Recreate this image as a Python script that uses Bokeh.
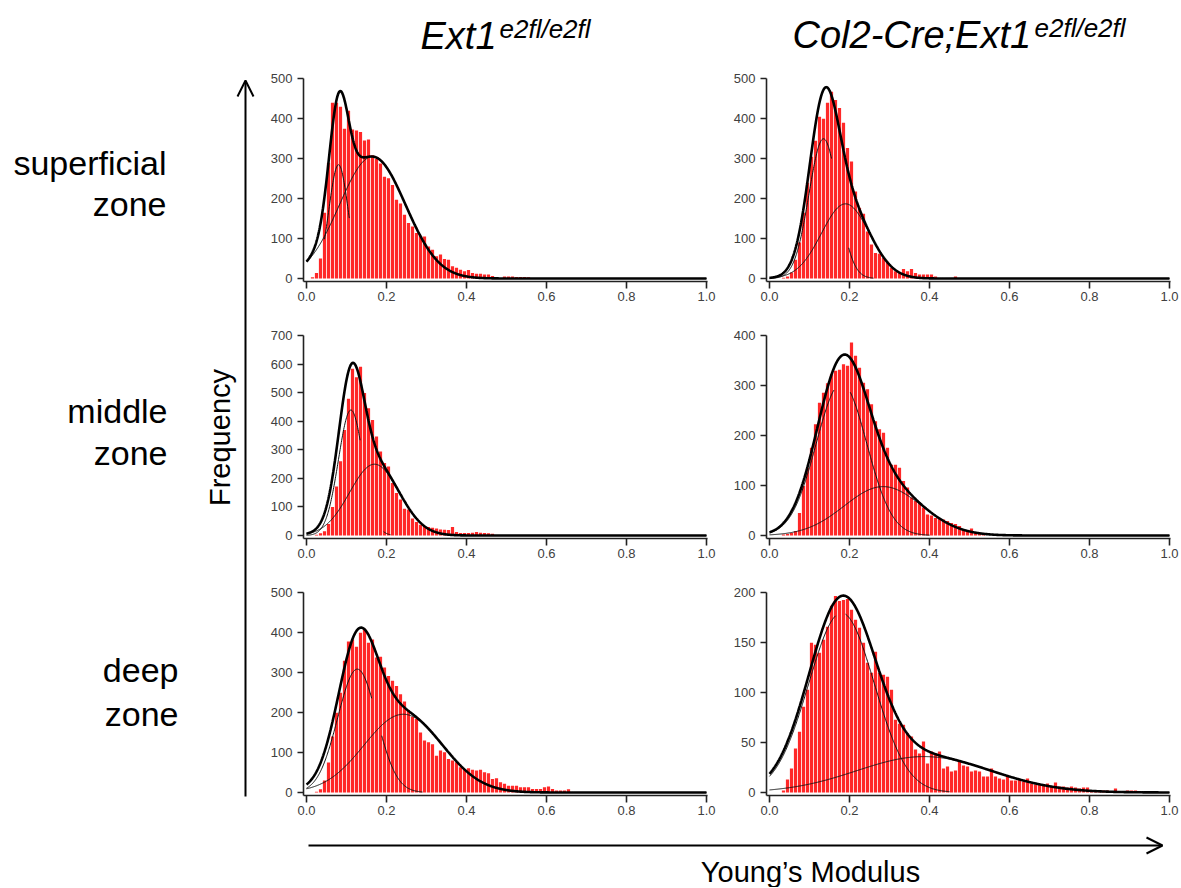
import numpy as np
from bokeh.plotting import figure
from bokeh.layouts import row, column
from bokeh.models import Range1d, FixedTicker, NumeralTickFormatter, Arrow, OpenHead
from bokeh.core.properties import value
from bokeh.embed import file_html
from bokeh.resources import INLINE

# ---------------- data ----------------
bin_width = 0.01  # histogram bins start at 0.00, 0.01, 0.02, ...

sup_ctrl_counts = [0, 3, 14, 50, 165, 290, 440, 440, 430, 375, 420, 373, 371, 367, 346, 348, 309, 300,
                   288, 255, 251, 234, 197, 188, 160, 139, 130, 114, 107, 105, 80, 72, 56, 60, 49, 47,
                   31, 27, 22, 18, 21, 14, 12, 12, 10, 10, 6, 3, 0, 5, 5, 5, 4, 4, 4, 3]
sup_cko_counts = [0, 0, 0, 2, 5, 15, 47, 90, 165, 240, 305, 345, 405, 400, 440, 468, 447, 427, 390,
                  327, 293, 218, 177, 162, 118, 85, 64, 62, 52, 42, 27, 18, 14, 24, 18, 24, 14, 10, 10,
                  10, 10, 5, 0, 0, 0, 0, 5]
mid_ctrl_counts = [0, 0, 3, 8, 15, 40, 100, 172, 260, 370, 480, 585, 555, 592, 500, 446, 405, 347, 295,
                   254, 242, 184, 149, 126, 94, 91, 60, 47, 38, 33, 30, 27, 25, 21, 20, 19, 30, 12, 9,
                   9, 9, 10, 12, 10, 9, 8, 6]
mid_cko_counts = [0, 0, 0, 2, 3, 5, 9, 45, 99, 136, 176, 223, 266, 286, 305, 323, 330, 332, 343, 340,
                  387, 360, 336, 306, 293, 263, 229, 213, 206, 176, 142, 142, 136, 109, 96, 76, 69, 66,
                  56, 42, 40, 35, 35, 32, 29, 25, 23, 19, 12, 10, 14, 7, 5, 5]
deep_ctrl_counts = [0, 0, 2, 8, 30, 75, 140, 200, 250, 330, 378, 383, 365, 400, 410, 375, 383, 338, 340,
                    313, 292, 280, 267, 246, 228, 205, 190, 184, 150, 130, 126, 121, 92, 105, 101, 84,
                    80, 76, 63, 59, 61, 57, 55, 57, 51, 48, 34, 36, 26, 22, 17, 17, 17, 13, 13, 13, 9,
                    9, 9, 13, 15, 9, 5, 5, 5, 8]
deep_cko_counts = [0, 0, 0, 2, 13, 24, 44, 61, 86, 103, 150, 148, 140, 153, 166, 187, 197, 192, 193,
                   194, 183, 173, 165, 150, 130, 120, 141, 120, 118, 116, 103, 73, 69, 68, 59, 56, 43,
                   39, 51, 29, 41, 39, 41, 24, 26, 21, 22, 31, 27, 26, 21, 22, 21, 16, 16, 24, 16, 14,
                   13, 16, 12, 12, 13, 11, 14, 9, 8, 8, 7, 9, 6, 10, 6, 6, 5, 6, 5, 4, 5, 5, 2, 2, 2,
                   2, 2, 0, 4, 0, 0, 2, 2, 2]

# Gaussian fit components: (amplitude, centre, width)
sup_ctrl_fit1 = (285, 0.080, 0.024)
sup_ctrl_fit2 = (305, 0.165, 0.0825)
sup_ctrl_segs = [(0.045, 0.107)]
sup_cko_fit1 = (350, 0.135, 0.0362)
sup_cko_fit2 = (187, 0.190, 0.060)
sup_cko_segs = [(0.0, 0.155), (0.198, 0.26)]
mid_ctrl_fit1 = (440, 0.111, 0.031)
mid_ctrl_fit2 = (250, 0.170, 0.062)
mid_ctrl_segs = [(0.0, 0.134), (0.193, 0.21)]
mid_cko_fit1 = (305, 0.180, 0.063)
mid_cko_fit2 = (98, 0.284, 0.097)
mid_cko_segs = [(0.0, 0.161), (0.202, 0.40)]
deep_ctrl_fit1 = (309, 0.127, 0.049)
deep_ctrl_fit2 = (196, 0.242, 0.098)
deep_ctrl_segs = [(0.0, 0.163), (0.188, 0.29)]
deep_cko_fit1 = (180, 0.180, 0.082)
deep_cko_fit2 = (36, 0.386, 0.168)
deep_cko_segs = [(0.0, 0.165), (0.19, 0.45)]

x_ticks = [0.0, 0.2, 0.4, 0.6, 0.8, 1.0]
y_ticks_500 = [0, 100, 200, 300, 400, 500]
y_ticks_700 = [0, 100, 200, 300, 400, 500, 600, 700]
y_ticks_400 = [0, 100, 200, 300, 400]
y_ticks_200 = [0, 50, 100, 150, 200]

col_titles_main = ["Ext1", "Col2-Cre;Ext1"]
col_titles_sup = ["e2fl/e2fl", "e2fl/e2fl"]
row_labels = [["superficial", "zone"], ["middle", "zone"], ["deep", "zone"]]
y_title = "Frequency"
x_title = "Young\u2019s Modulus"

FONT = "Liberation Sans"


def gauss(x, fit):
    a, m, s = fit
    return a * np.exp(-(x - m) ** 2 / (2 * s * s))


def panel(counts, fit1, fit2, segs, ymax, yticks, bl, br, bt, bb):
    fw, fh = 404, 203
    p = figure(width=bl + fw + br, height=bt + fh + bb,
               x_range=Range1d(-0.0075, 1.0025),
               y_range=Range1d(-0.015 * ymax, ymax * 1.002),
               output_backend="svg", toolbar_location=None,
               min_border_left=bl, min_border_right=br,
               min_border_top=bt, min_border_bottom=bb)
    centers = [bin_width * (i + 0.5) for i in range(len(counts))]
    p.vbar(x=centers, top=counts, width=bin_width * 0.8, bottom=0,
           fill_color="#ff2828", line_color=None)
    xg = np.linspace(0, 1, 1001)
    g1 = gauss(xg, fit1)
    g2 = gauss(xg, fit2)
    g1s = np.full_like(xg, np.nan)
    for a, b in segs:
        m = (xg >= a) & (xg <= b)
        g1s[m] = g1[m]
    p.line(xg, g2, line_color="#111111", line_width=1)
    p.line(xg, g1s, line_color="#111111", line_width=1)
    p.line(xg, g1 + g2, line_color="black", line_width=2.6)

    p.xaxis.ticker = FixedTicker(ticks=x_ticks)
    p.xaxis.formatter = NumeralTickFormatter(format="0.0")
    p.yaxis.ticker = FixedTicker(ticks=yticks)
    p.axis.major_tick_in = 0
    p.xaxis.major_tick_out = 7
    p.yaxis.major_tick_out = 6
    p.axis.minor_tick_line_color = None
    p.axis.axis_line_width = 1.6
    p.axis.axis_line_color = "#222222"
    p.axis.major_tick_line_width = 1.6
    p.axis.major_tick_line_color = "#222222"
    p.axis.major_label_text_font_size = "13px"
    p.axis.major_label_text_color = "#404040"
    p.axis.major_label_text_font = FONT
    p.xaxis.major_label_standoff = 3
    p.yaxis.major_label_standoff = 5
    p.xgrid.visible = False
    p.ygrid.visible = False
    p.outline_line_color = None
    return p


def blank(w, h, x0, x1, y0, y1):
    p = figure(width=w, height=h, x_range=Range1d(x0, x1), y_range=Range1d(y0, y1),
               output_backend="svg", toolbar_location=None,
               x_axis_location=None, y_axis_location=None,
               min_border_left=0, min_border_right=0, min_border_top=0, min_border_bottom=0)
    p.xgrid.visible = False
    p.ygrid.visible = False
    p.outline_line_color = None
    return p


# column 1 / column 2 borders
L1, R1 = 45, 14
L2, R2 = 45, 11
TOP = 10
BOT12 = 44
BOT3 = 26

p11 = panel(sup_ctrl_counts, sup_ctrl_fit1, sup_ctrl_fit2, sup_ctrl_segs, 500, y_ticks_500, L1, R1, TOP, BOT12)
p21 = panel(mid_ctrl_counts, mid_ctrl_fit1, mid_ctrl_fit2, mid_ctrl_segs, 700, y_ticks_700, L1, R1, TOP, BOT12)
p31 = panel(deep_ctrl_counts, deep_ctrl_fit1, deep_ctrl_fit2, deep_ctrl_segs, 500, y_ticks_500, L1, R1, TOP, BOT3)
p12 = panel(sup_cko_counts, sup_cko_fit1, sup_cko_fit2, sup_cko_segs, 500, y_ticks_500, L2, R2, TOP, BOT12)
p22 = panel(mid_cko_counts, mid_cko_fit1, mid_cko_fit2, mid_cko_segs, 400, y_ticks_400, L2, R2, TOP, BOT12)
p32 = panel(deep_cko_counts, deep_cko_fit1, deep_cko_fit2, deep_cko_segs, 200, y_ticks_200, L2, R2, TOP, BOT3)

# page coordinates for the text canvases (y negative downwards)
TOTAL_W = 1181
LAB_W = 258
title_h = 68
rows_h = (TOP + 203 + BOT12) * 2 + (TOP + 203 + BOT3)
y_bot0 = title_h + rows_h
bottom_h = 887 - y_bot0

# title canvas
t = blank(TOTAL_W, title_h, 0, TOTAL_W, -title_h, 0)
t.text(x=[420, 792], y=[-35, -34], text=col_titles_main, text_font=value(FONT),
       text_font_style="italic", text_font_size="38px", text_baseline="middle",
       text_align="left", text_color="black")
t.text(x=[499, 1034], y=[-28, -27], text=col_titles_sup, text_font=value(FONT),
       text_font_style="italic", text_font_size="26px", text_baseline="middle",
       text_align="left", text_color="black")

# left label canvas
lab = blank(LAB_W, rows_h, 0, LAB_W, -y_bot0, -title_h)
lab.text(x=[166, 166, 167, 167, 178, 178],
         y=[-162, -203, -410, -452, -669, -713],
         text=[row_labels[0][0], row_labels[0][1], row_labels[1][0], row_labels[1][1],
               row_labels[2][0], row_labels[2][1]],
         text_font=value(FONT), text_font_size="34px", text_baseline="middle",
         text_align="right", text_color="black")
lab.text(x=[219], y=[-437], text=[y_title], angle=np.pi / 2, text_font=value(FONT),
         text_font_size="29px", text_baseline="middle", text_align="center", text_color="black")
lab.add_layout(Arrow(end=OpenHead(size=16, line_width=2, line_color="black"),
                     x_start=245, y_start=-796, x_end=245, y_end=-80,
                     line_width=2, line_color="black"))

# bottom canvas
bot = blank(TOTAL_W, bottom_h, 0, TOTAL_W, -887, -y_bot0)
bot.add_layout(Arrow(end=OpenHead(size=16, line_width=2, line_color="black"),
                     x_start=308, y_start=-845, x_end=1162, y_end=-845,
                     line_width=2, line_color="black"))
bot.text(x=[810], y=[-871], text=[x_title], text_font=value(FONT), text_font_size="29px",
         text_baseline="middle", text_align="center", text_color="black")

layout = column(t, row(lab, column(p11, p21, p31), column(p12, p22, p32)), bot)

open("out.html", "w").write(file_html(layout, INLINE))
